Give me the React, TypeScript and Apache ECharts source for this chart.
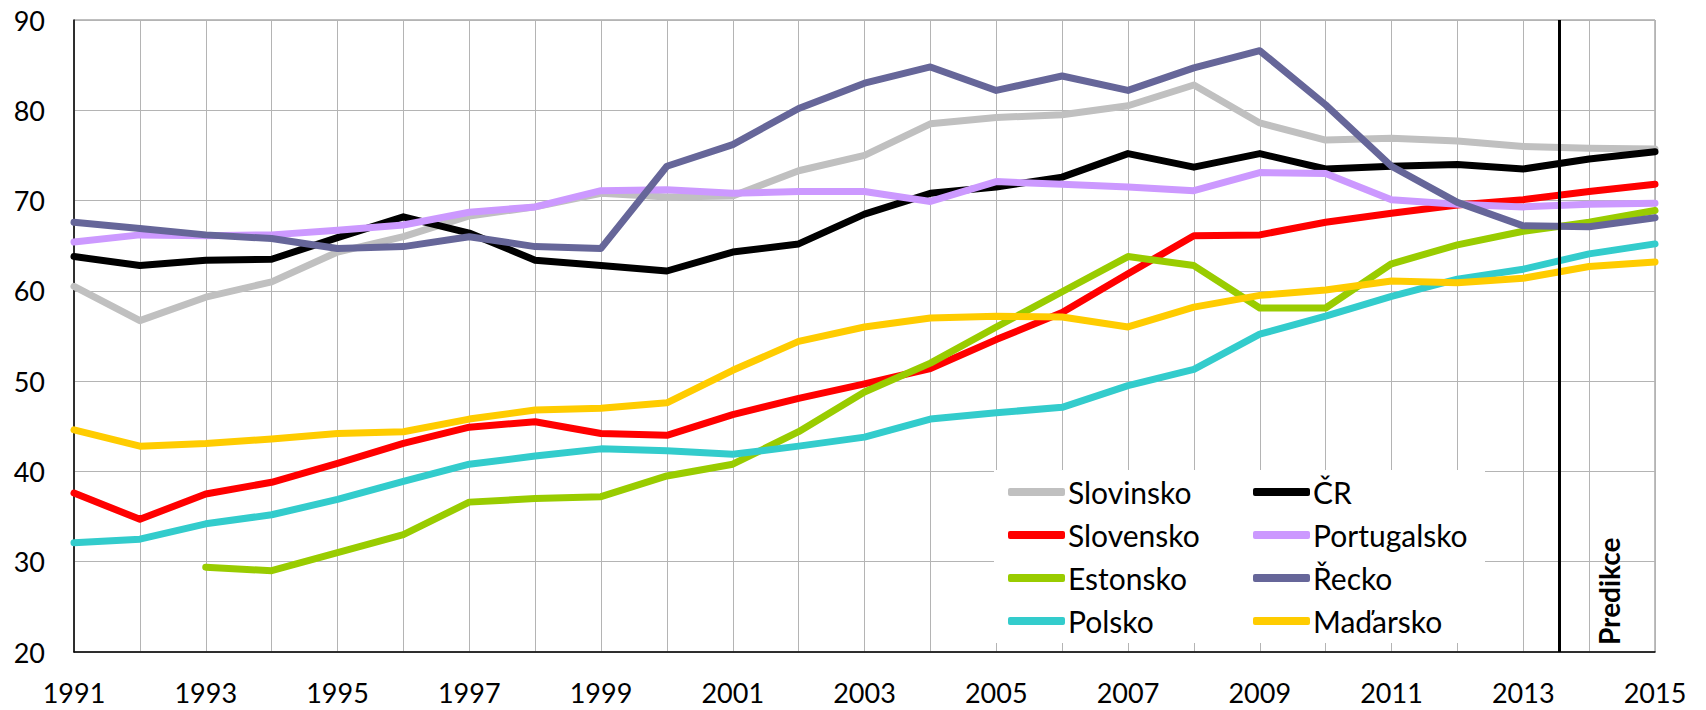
import React, { useEffect, useRef } from "react";
import * as echarts from "echarts";

const years = [1991, 1992, 1993, 1994, 1995, 1996, 1997, 1998, 1999, 2000, 2001, 2002, 2003, 2004, 2005, 2006, 2007, 2008, 2009, 2010, 2011, 2012, 2013, 2014, 2015];

const slovinsko = [60.5, 56.7, 59.3, 61.0, 64.3, 66.0, 68.3, 69.3, 70.8, 70.4, 70.5, 73.3, 75.0, 78.5, 79.2, 79.5, 80.5, 82.8, 78.6, 76.7, 76.9, 76.6, 76.0, 75.8, 75.7];
const cr = [63.8, 62.8, 63.4, 63.5, 65.9, 68.2, 66.4, 63.4, 62.8, 62.2, 64.3, 65.2, 68.5, 70.8, 71.5, 72.6, 75.2, 73.7, 75.2, 73.5, 73.8, 74.0, 73.5, 74.6, 75.4];
const slovensko = [37.6, 34.7, 37.5, 38.8, 40.9, 43.1, 44.9, 45.5, 44.2, 44.0, 46.3, 48.1, 49.7, 51.4, 54.6, 57.6, 61.9, 66.1, 66.2, 67.6, 68.6, 69.5, 70.1, 71.0, 71.8];
const portugalsko = [65.4, 66.2, 66.1, 66.2, 66.7, 67.3, 68.7, 69.3, 71.1, 71.2, 70.8, 71.0, 71.0, 69.9, 72.1, 71.8, 71.5, 71.1, 73.1, 73.0, 70.1, 69.6, 69.3, 69.6, 69.7];
const estonsko = [null, null, 29.4, 29.0, 31.0, 33.0, 36.6, 37.0, 37.2, 39.5, 40.8, 44.4, 48.8, 52.0, 56.0, 59.9, 63.8, 62.8, 58.1, 58.1, 63.0, 65.1, 66.6, 67.6, 68.9];
const recko = [67.6, 66.9, 66.2, 65.8, 64.7, 64.9, 66.0, 64.9, 64.7, 73.8, 76.2, 80.2, 83.0, 84.8, 82.2, 83.8, 82.2, 84.7, 86.6, 80.6, 73.8, 69.8, 67.2, 67.1, 68.1];
const polsko = [32.1, 32.5, 34.2, 35.2, 36.9, 38.9, 40.8, 41.7, 42.5, 42.3, 41.9, 42.8, 43.8, 45.8, 46.5, 47.1, 49.5, 51.3, 55.2, 57.2, 59.4, 61.3, 62.4, 64.1, 65.2];
const madarsko = [44.6, 42.8, 43.1, 43.6, 44.2, 44.4, 45.8, 46.8, 47.0, 47.6, 51.2, 54.4, 56.0, 57.0, 57.2, 57.1, 56.0, 58.2, 59.5, 60.1, 61.1, 60.9, 61.4, 62.7, 63.2];

const predictionStart = 2013.55;

const seriesDefs = [
  { name: "Slovinsko", values: slovinsko, color: "#C0C0C0" },
  { name: "ČR", values: cr, color: "#000000" },
  { name: "Slovensko", values: slovensko, color: "#FF0000" },
  { name: "Portugalsko", values: portugalsko, color: "#CC99FF" },
  { name: "Estonsko", values: estonsko, color: "#99CC00" },
  { name: "Řecko", values: recko, color: "#666699" },
  { name: "Polsko", values: polsko, color: "#33CCCC" },
  { name: "Maďarsko", values: madarsko, color: "#FFCC00" },
];

const legendCol1 = ["Slovinsko", "Slovensko", "Estonsko", "Polsko"];
const legendCol2 = ["ČR", "Portugalsko", "Řecko", "Maďarsko"];

const FONT = "Lato";

export default function App() {
  const ref = useRef<HTMLDivElement>(null);
  useEffect(() => {
    if (!ref.current) return;
    const chart = echarts.init(ref.current, null, { renderer: "svg" });
    const series: any[] = seriesDefs.map((s, idx) => ({
      name: s.name,
      type: "line",
      symbol: "none",
      showSymbol: false,
      z: 3,
      data: years
        .map((y, i) => [y, s.values[i]])
        .filter((p) => p[1] !== null && p[1] !== undefined),
      lineStyle: { color: s.color, width: 7, cap: "round", join: "round" },
      itemStyle: { color: s.color },
      ...(idx === 0
        ? {
            markLine: {
              silent: true,
              symbol: "none",
              label: { show: false },
              lineStyle: { color: "#000", width: 3, type: "solid" },
              data: [{ xAxis: predictionStart }],
            },
          }
        : {}),
    }));
    const legendBase = {
      orient: "vertical",
      top: 477,
      itemWidth: 57,
      itemHeight: 8,
      itemGap: 13,
      icon: "roundRect",
      selectedMode: false,
      padding: 0,
      textStyle: { fontFamily: FONT, fontSize: 30, color: "#000", lineHeight: 30, padding: [0, 0, 0, -2] },
    };
    chart.setOption({
      animation: false,
      backgroundColor: "#fff",
      grid: {
        left: 74,
        right: 51,
        top: 20,
        bottom: 58,
        show: true,
        borderColor: "#7f7f7f",
        borderWidth: 1,
      },
      xAxis: {
        type: "value",
        min: 1991,
        max: 2015,
        interval: 1,
        axisLine: { show: true, lineStyle: { color: "#000", width: 1.5 } },
        axisTick: { show: false },
        axisLabel: {
          fontFamily: FONT,
          fontSize: 27,
          color: "#000",
          margin: 27,
          formatter: (v: number) => (v % 2 === 1 ? String(v) : ""),
        },
        splitLine: { show: true, lineStyle: { color: "#b4b4b4", width: 1 } },
      },
      yAxis: {
        type: "value",
        min: 20,
        max: 90,
        interval: 10,
        axisLine: { show: true, lineStyle: { color: "#000", width: 1.5 } },
        axisTick: { show: false },
        axisLabel: { fontFamily: FONT, fontSize: 27, color: "#000", margin: 29 },
        splitLine: { show: true, lineStyle: { color: "#b4b4b4", width: 1 } },
      },
      legend: [
        { ...legendBase, left: 1008, data: legendCol1 },
        { ...legendBase, left: 1253, data: legendCol2 },
      ],
      graphic: [
        {
          type: "rect",
          z: 1,
          shape: { x: 994, y: 470, width: 491, height: 173 },
          style: { fill: "#fff" },
          silent: true,
        },
        {
          type: "text",
          z: 5,
          x: 1609,
          y: 645,
          rotation: Math.PI / 2,
          style: {
            text: "Predikce",
            fontFamily: FONT,
            fontWeight: "bold",
            fontSize: 28,
            fill: "#000",
            textAlign: "left",
            textVerticalAlign: "middle",
          },
        },
      ],
      series,
    });
    return () => chart.dispose();
  }, []);
  return (
    <div
      ref={ref}
      style={{ position: "fixed", left: 0, top: 0, width: 1706, height: 710 }}
    />
  );
}
